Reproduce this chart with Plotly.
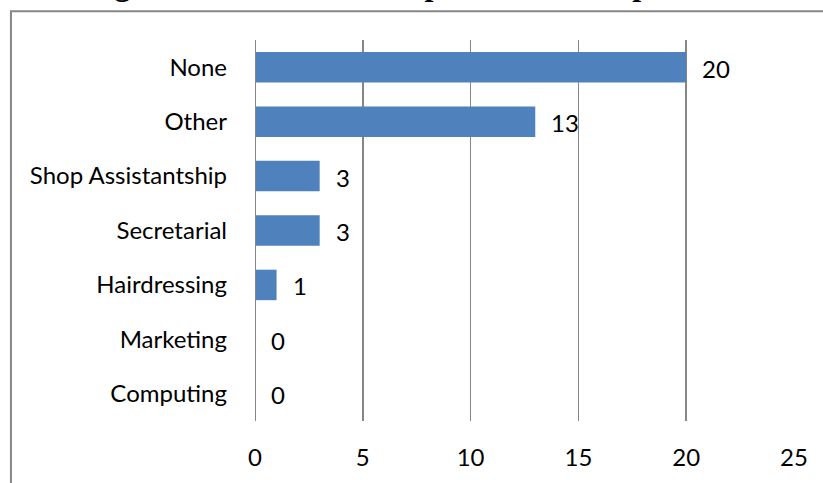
import plotly.graph_objects as go

categories = ["Computing", "Marketing", "Hairdressing", "Secretarial", "Shop Assistantship", "Other", "None"]
values = [0, 0, 1, 3, 3, 13, 20]
x_ticks = [0, 5, 10, 15, 20, 25]
title_text = "Figure 10: Past Work Experience of Respondents"

W, H = 823, 483
L, R, T, B = 254.5, 794.5, 40, 425
pw, ph = R - L, B - T

def px(x):
    return (x - L) / pw

def py(y):
    return (B - y) / ph

FONT = "Lato"
FS = 24

fig = go.Figure()
fig.add_trace(go.Bar(
    x=values, y=categories, orientation="h",
    marker=dict(color="#4F81BD", line=dict(width=0)),
    width=0.56, hoverinfo="skip",
))

annotations = []
for c, v in zip(categories, values):
    annotations.append(dict(
        x=v, y=c, xref="x", yref="y", text=str(v), showarrow=False,
        xanchor="left", yanchor="middle", xshift=14, yshift=-1,
        font=dict(family=FONT, size=FS, color="#000000"),
    ))
annotations.append(dict(
    x=px(421), y=py(4), xref="paper", yref="paper", text="<b>" + title_text + "</b>",
    showarrow=False, xanchor="center", yanchor="bottom",
    font=dict(family="Liberation Serif", size=32, color="#000000"),
))

fig.update_layout(
    width=W, height=H,
    margin=dict(l=L, r=W - R, t=T, b=H - B, pad=0),
    paper_bgcolor="white", plot_bgcolor="white",
    showlegend=False,
    annotations=annotations,
    shapes=[dict(type="rect", xref="paper", yref="paper",
                 x0=px(10), y0=py(495), x1=px(835), y1=py(11),
                 line=dict(color="#868686", width=2), fillcolor="rgba(0,0,0,0)", layer="below")],
    xaxis=dict(range=[0, 25], tickvals=x_ticks, ticktext=[str(t) for t in x_ticks],
               showgrid=True, gridcolor="#868686", gridwidth=1.5, zeroline=False,
               showline=False, ticks="", ticklabelstandoff=20,
               tickfont=dict(family=FONT, size=FS, color="#000000"), fixedrange=True),
    yaxis=dict(categoryorder="array", categoryarray=categories,
               showgrid=False, zeroline=False, showline=False, ticks="",
               ticklabelstandoff=27,
               tickfont=dict(family=FONT, size=FS, color="#000000"), fixedrange=True),
)
fig.add_shape(type="line", xref="x", yref="paper", x0=0, x1=0, y0=0, y1=1,
              line=dict(color="#868686", width=2), layer="above")

fig.write_html("out.html", config={"staticPlot": True},
               post_script="document.body.style.margin='0';document.body.style.overflow='hidden';")
